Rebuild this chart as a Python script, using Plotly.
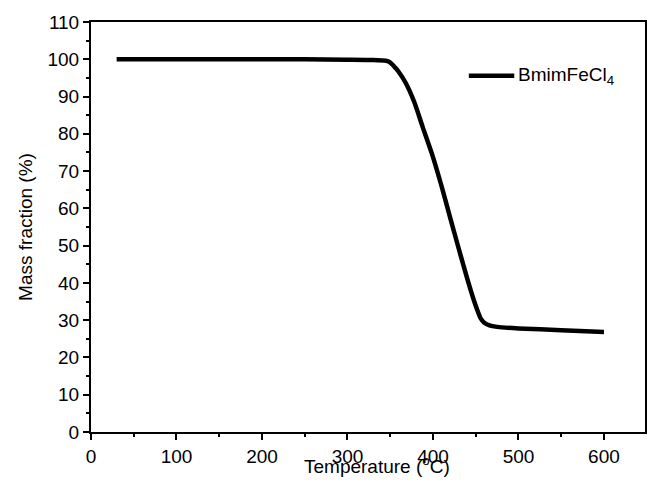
import plotly.graph_objects as go

# TGA curve of BmimFeCl4: temperature (°C) vs remaining mass (%)
temperature = [30, 60, 100, 150, 200, 250, 300, 330, 345, 348, 352, 356, 360, 368,
               378, 388, 399, 410, 420, 430, 440, 448, 453, 456, 460, 466, 475,
               500, 550, 600]
mass_fraction = [100.0, 100.0, 100.0, 100.0, 100.0, 100.0, 99.9, 99.8, 99.6, 99.4,
                 98.7, 97.7, 96.6, 93.7, 88.6, 81.8, 74.5, 66.0, 57.6, 49.3, 41.2,
                 35.2, 32.0, 30.4, 29.3, 28.6, 28.2, 27.8, 27.3, 26.8]
series_name = "BmimFeCl<sub>4</sub>"
x_title = "Temperature (<sup>o</sup>C)"
y_title = "Mass fraction (%)"

x_ticks = [0, 100, 200, 300, 400, 500, 600]
y_ticks = [0, 10, 20, 30, 40, 50, 60, 70, 80, 90, 100, 110]

font_family = "Liberation Sans, Arial, sans-serif"

fig = go.Figure()
fig.add_trace(go.Scatter(
    x=temperature, y=mass_fraction, mode="lines", name=series_name,
    showlegend=False,
    line=dict(color="black", width=4.5, shape="spline", smoothing=0.6),
))

axis_common = dict(
    showline=True, linecolor="black", linewidth=2, mirror=True,
    ticks="outside", ticklen=6, tickwidth=2, tickcolor="black",
    showgrid=False, zeroline=False,
    tickfont=dict(family=font_family, size=19, color="black"),
)

fig.update_xaxes(
    range=[0, 648], tickvals=x_ticks,
    minor=dict(dtick=50, tick0=0, ticks="outside", ticklen=3, tickwidth=2, tickcolor="black"),
    **axis_common,
)
fig.update_yaxes(
    range=[0, 110], tickvals=y_ticks,
    minor=dict(dtick=5, tick0=0, ticks="outside", ticklen=3, tickwidth=2, tickcolor="black"),
    title=dict(text=y_title, standoff=10,
               font=dict(family=font_family, size=19, color="black")),
    **axis_common,
)

# x-axis title placed just under the tick labels, slightly right of centre
fig.add_annotation(xref="paper", yref="paper", x=0.517, y=-0.047,
                   xanchor="center", yanchor="top", showarrow=False,
                   text=x_title,
                   font=dict(family=font_family, size=19, color="black"))

# Legend entry drawn by hand so the line sample has the longer length
legend_y = 0.869
fig.add_shape(type="line", xref="paper", yref="paper",
              x0=0.682, x1=0.764, y0=legend_y, y1=legend_y,
              line=dict(color="black", width=4.5))
fig.add_annotation(xref="paper", yref="paper", x=0.768, y=legend_y,
                   xanchor="left", yanchor="middle", showarrow=False,
                   text=series_name,
                   font=dict(family=font_family, size=19, color="black"))

fig.update_layout(
    width=648, height=482,
    margin=dict(l=91, r=1, t=22, b=50),
    paper_bgcolor="white", plot_bgcolor="white",
)

fig.write_html("out.html")
